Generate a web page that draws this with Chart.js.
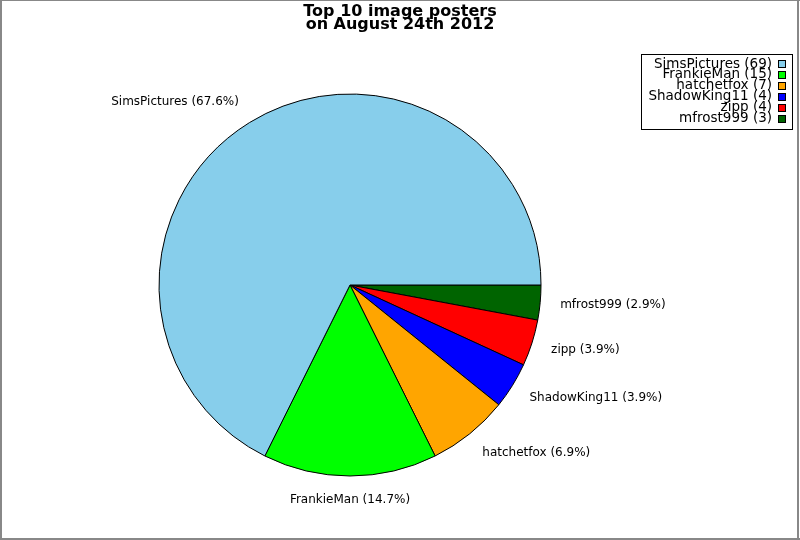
<!DOCTYPE html>
<html>
<head>
<meta charset="utf-8">
<script src="https://cdn.jsdelivr.net/npm/chart.js@4.4.1/dist/chart.umd.min.js"></script>
<style>
  html, body { margin: 0; padding: 0; background: #fff; }
  #pie { display: block; }
</style>
</head>
<body>
<canvas id="pie" width="800" height="540"></canvas>
<script>
// --- dados do gráfico ---
const posters = ['SimsPictures', 'FrankieMan', 'hatchetfox', 'ShadowKing11', 'zipp', 'mfrost999'];
const imageCounts = [69, 15, 7, 4, 4, 3];
const sliceColors = ['#87ceeb', '#00ff00', '#ffa500', '#0000ff', '#ff0000', '#006400'];
const titleLines = ['Top 10 image posters', 'on August 24th 2012'];

const FONT = '"DejaVu Sans", Verdana, sans-serif';
const total = imageCounts.reduce((a, b) => a + b, 0);

// A referência desenha no sentido anti-horário a partir das 3h;
// o Chart.js desenha no sentido horário, então invertemos a ordem.
const order = posters.map((_, i) => i).reverse();

// Moldura, título, rótulos das fatias e legenda.
const decorPlugin = {
    id: 'decor',
    afterDraw(chart) {
        const ctx = chart.ctx;
        const meta = chart.getDatasetMeta(0);
        ctx.save();

        // moldura cinza
        ctx.fillStyle = '#888888';
        ctx.fillRect(0, 0, 800, 1);
        ctx.fillRect(0, 0, 2, 540);
        ctx.fillRect(0, 538, 800, 2);
        ctx.fillRect(797, 0, 2, 540);

        // título
        ctx.fillStyle = '#000';
        ctx.font = 'bold 16px ' + FONT;
        ctx.textAlign = 'center';
        ctx.textBaseline = 'alphabetic';
        ctx.fillText(titleLines[0], 400, 16);
        ctx.fillText(titleLines[1], 400, 29);

        // rótulos das fatias
        ctx.font = '12px ' + FONT;
        ctx.textBaseline = 'middle';
        meta.data.forEach((arc, i) => {
            const p = arc.getProps(['x', 'y', 'startAngle', 'endAngle', 'outerRadius'], true);
            const mid = (p.startAngle + p.endAngle) / 2;
            const lx = p.x + Math.cos(mid) * p.outerRadius * 1.105;
            const ly = p.y + Math.sin(mid) * p.outerRadius * 1.125;
            const c = Math.cos(mid);
            ctx.textAlign = c > 0.05 ? 'left' : (c < -0.05 ? 'right' : 'center');
            const idx = order[i];
            const pct = (imageCounts[idx] / total * 100).toFixed(1);
            ctx.fillText(posters[idx] + ' (' + pct + '%)', lx, ly);
        });

        // legenda
        ctx.strokeStyle = '#000';
        ctx.lineWidth = 1;
        ctx.strokeRect(641.5, 54.5, 151, 75);
        ctx.font = '13.5px ' + FONT;
        ctx.textAlign = 'right';
        posters.forEach((name, i) => {
            const cy = 64 + i * 10.9;
            ctx.fillStyle = '#000';
            ctx.fillText(name + ' (' + imageCounts[i] + ')', 772, cy);
            ctx.fillStyle = sliceColors[i];
            ctx.fillRect(778, Math.round(cy - 4), 8, 8);
            ctx.strokeRect(778.5, Math.round(cy - 4) + 0.5, 7, 7);
        });

        ctx.restore();
    }
};

new Chart(document.getElementById('pie'), {
    type: 'pie',
    data: {
        labels: order.map(i => posters[i]),
        datasets: [{
            data: order.map(i => imageCounts[i]),
            backgroundColor: order.map(i => sliceColors[i]),
            borderColor: '#000000',
            borderWidth: 1,
            borderAlign: 'center'
        }]
    },
    options: {
        responsive: false,
        maintainAspectRatio: false,
        animation: false,
        devicePixelRatio: 1,
        rotation: 90,
        radius: 191,
        layout: { padding: { left: 0, right: 100, top: 30, bottom: 0 } },
        plugins: {
            legend: { display: false },
            title: { display: false },
            tooltip: { enabled: false }
        }
    },
    plugins: [decorPlugin]
});
</script>
</body>
</html>
